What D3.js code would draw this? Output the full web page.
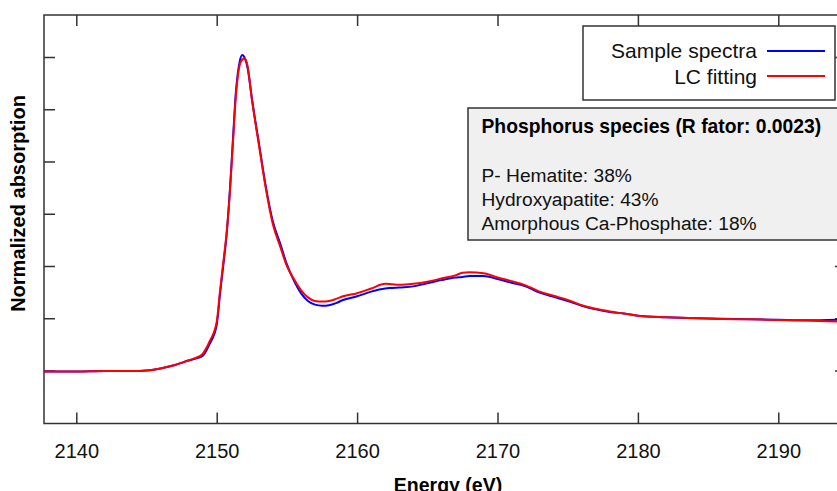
<!DOCTYPE html>
<html>
<head>
<meta charset="utf-8">
<script src="https://cdn.jsdelivr.net/npm/d3@7"></script>
<style>
  body { margin: 0; background: #fff; }
  svg { display: block; font-family: "Liberation Sans", Arial, sans-serif; }
</style>
</head>
<body>
<svg id="chart" width="837" height="491"></svg>
<script>
// energies (eV) shared by both curves
const energy = [2137.7, 2140, 2142, 2144, 2145, 2146, 2147, 2148, 2148.5, 2149, 2149.5, 2150,
  2150.25, 2150.5, 2150.7, 2150.95, 2151.2, 2151.35, 2151.5, 2151.65, 2151.82, 2152.0, 2152.2, 2152.5,
  2153, 2153.5, 2154, 2154.5, 2155, 2155.5, 2156, 2156.5, 2157, 2157.5, 2158, 2158.5, 2159,
  2160, 2161, 2162, 2162.5, 2163, 2164, 2165, 2166, 2167, 2167.5, 2168, 2169, 2170, 2171,
  2172, 2173, 2174, 2175, 2176, 2177, 2178, 2179, 2180, 2182, 2184, 2186, 2188, 2190, 2192, 2194.8];

// normalized absorption, sample spectrum
const sample = [-0.02, -0.02, -0.01, -0.01, 0.0, 0.04, 0.10, 0.19, 0.23, 0.28, 0.51, 0.87,
  1.50, 2.08, 2.58, 3.50, 4.62, 5.28, 5.68, 5.93, 6.04, 5.98, 5.79, 5.22,
  4.36, 3.52, 2.85, 2.45, 2.03, 1.72, 1.48, 1.33, 1.26, 1.24, 1.25, 1.29, 1.35,
  1.42, 1.51, 1.57, 1.58, 1.59, 1.61, 1.67, 1.73, 1.78, 1.79, 1.81, 1.81, 1.75, 1.68,
  1.61, 1.49, 1.41, 1.33, 1.24, 1.17, 1.12, 1.09, 1.05, 1.02, 1.00, 0.99, 0.98, 0.97, 0.96, 0.98];

// normalized absorption, linear combination fit
const fit = [-0.02, -0.02, -0.01, -0.01, 0.0, 0.04, 0.105, 0.195, 0.24, 0.32, 0.56, 0.93,
  1.56, 2.14, 2.62, 3.45, 4.55, 5.20, 5.62, 5.86, 5.95, 5.97, 5.83, 5.20,
  4.33, 3.48, 2.80, 2.39, 2.00, 1.75, 1.54, 1.40, 1.33, 1.32, 1.33, 1.37, 1.42,
  1.48, 1.57, 1.66, 1.65, 1.64, 1.66, 1.70, 1.76, 1.82, 1.87, 1.88, 1.86, 1.78, 1.71,
  1.63, 1.51, 1.43, 1.35, 1.25, 1.18, 1.13, 1.09, 1.05, 1.02, 1.005, 0.985, 0.98, 0.967, 0.957, 0.93];

const xTicks = [2140, 2150, 2160, 2170, 2180, 2190];
const yTicks = [0, 1, 2, 3, 4, 5, 6];

const legendItems = [
  { label: "Sample spectra", color: "#0000ff" },
  { label: "LC fitting", color: "#ff0000" }
];
const infoTitle = "Phosphorus species (R fator: 0.0023)";
const infoLines = ["P- Hematite: 38%", "Hydroxyapatite: 43%", "Amorphous Ca-Phosphate: 18%"];

const plot = { left: 44, top: 15, right: 846, bottom: 423.5 };

const x = d3.scaleLinear([2140, 2190], [76.3, 778.3]);
const y = d3.scaleLinear([0, 6], [370.5, 57]);

const svg = d3.select("#chart");

svg.append("clipPath").attr("id", "clip")
  .append("rect")
    .attr("x", plot.left).attr("y", plot.top)
    .attr("width", plot.right - plot.left).attr("height", plot.bottom - plot.top);

// axes (ticks point inward)
const axisColor = "#333";
const bottomAxis = svg.append("g")
  .attr("transform", `translate(0,${plot.bottom})`)
  .call(d3.axisBottom(x).tickValues(xTicks).tickSizeInner(-11).tickSizeOuter(0).tickPadding(20).tickFormat(d3.format("d")));
const topAxis = svg.append("g")
  .attr("transform", `translate(0,${plot.top})`)
  .call(d3.axisTop(x).tickValues(xTicks).tickSizeInner(-11).tickSizeOuter(0).tickFormat(""));
const leftAxis = svg.append("g")
  .attr("transform", `translate(${plot.left},0)`)
  .call(d3.axisLeft(y).tickValues(yTicks).tickSizeInner(-11).tickSizeOuter(0).tickFormat(""));
const rightAxis = svg.append("g")
  .attr("transform", `translate(${plot.right},0)`)
  .call(d3.axisRight(y).tickValues(yTicks).tickSizeInner(-11).tickSizeOuter(0).tickFormat(""));

[bottomAxis, topAxis, leftAxis, rightAxis].forEach(g => {
  g.select(".domain").remove();
  g.selectAll(".tick line").attr("stroke", axisColor).attr("stroke-width", 1.5);
});
bottomAxis.selectAll(".tick text")
  .attr("font-size", "20px")
  .attr("fill", "#111")
  .attr("font-family", "'Liberation Sans', Arial, sans-serif");

// frame
svg.append("rect")
  .attr("x", plot.left).attr("y", plot.top)
  .attr("width", plot.right - plot.left).attr("height", plot.bottom - plot.top)
  .attr("fill", "none").attr("stroke", axisColor).attr("stroke-width", 1.5);

// curves
const line = d3.line()
  .x((d, i) => x(energy[i]))
  .y(d => y(d))
  .curve(d3.curveMonotoneX);

const curves = svg.append("g").attr("clip-path", "url(#clip)");
curves.append("path")
  .datum(sample)
  .attr("d", line)
  .attr("fill", "none")
  .attr("stroke", legendItems[0].color)
  .attr("stroke-width", 2);
curves.append("path")
  .datum(fit)
  .attr("d", line)
  .attr("fill", "none")
  .attr("stroke", legendItems[1].color)
  .attr("stroke-width", 2);

// axis titles
svg.append("text")
  .attr("x", 448).attr("y", 492)
  .attr("text-anchor", "middle")
  .attr("font-size", "19.5px").attr("font-weight", "bold")
  .text("Energy (eV)");

svg.append("text")
  .attr("transform", "translate(25,203.5) rotate(-90)")
  .attr("text-anchor", "middle")
  .attr("font-size", "20px").attr("font-weight", "bold")
  .text("Normalized absorption");

// legend
const legend = svg.append("g");
legend.append("rect")
  .attr("x", 583).attr("y", 26).attr("width", 252).attr("height", 74)
  .attr("fill", "#fff").attr("stroke", axisColor).attr("stroke-width", 1.5);
legendItems.forEach((d, i) => {
  const ly = [51, 76][i];
  legend.append("line")
    .attr("x1", 767).attr("x2", 825).attr("y1", ly).attr("y2", ly)
    .attr("stroke", d.color).attr("stroke-width", 2);
  legend.append("text")
    .attr("x", 757).attr("y", [58, 84][i])
    .attr("text-anchor", "end")
    .attr("font-size", "21px")
    .attr("fill", "#111")
    .text(d.label);
});

// info box
const info = svg.append("g");
info.append("rect")
  .attr("x", 468).attr("y", 108).attr("width", 380).attr("height", 132)
  .attr("fill", "#f0f0f0").attr("stroke", axisColor).attr("stroke-width", 1.5);
info.append("text")
  .attr("x", 481.5).attr("y", 133)
  .attr("font-size", "19.3px").attr("font-weight", "bold")
  .text(infoTitle);
infoLines.forEach((t, i) => {
  info.append("text")
    .attr("x", 481.5).attr("y", 182 + i * 24)
    .attr("font-size", "19.2px")
    .attr("fill", "#111")
    .text(t);
});
</script>
</body>
</html>
